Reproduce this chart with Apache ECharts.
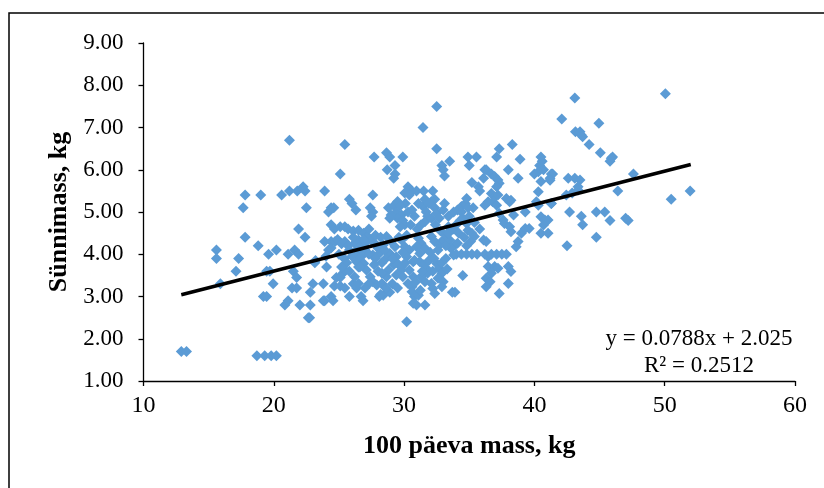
<!DOCTYPE html>
<html>
<head>
<meta charset="utf-8">
<script src="https://cdn.jsdelivr.net/npm/echarts@6/dist/echarts.min.js"></script>
<style>html,body{margin:0;padding:0;background:#fff}#c{width:824px;height:488px}</style>
</head>
<body>
<div id="c"></div>
<script>
// [100 päeva mass, Sünnimass]
var scatterData = [
[12.9,1.7],[13.3,1.7],[18.7,1.6],[19.3,1.6],[19.8,1.6],[20.2,1.6],
[15.6,4.1],[15.6,3.9],[15.9,3.3],[17.1,3.6],[17.3,3.9],[17.65,5.1],[17.8,5.4],[17.8,4.4],
[19.0,5.4],[18.8,4.2],[19.2,3.0],[19.45,3.0],[19.45,3.6],[19.7,3.6],[19.6,4.0],[19.95,3.3],[20.2,4.1],[20.6,5.4],
[21.2,6.7],[21.2,5.5],[21.1,4.0],[21.6,4.1],[21.9,4.0],[21.9,4.6],[21.8,5.5],[22.25,5.6],[22.4,5.5],[22.5,5.1],[22.4,4.4],
[20.85,2.8],[21.1,2.9],[21.5,3.6],[21.75,3.45],[21.4,3.2],[21.75,3.2],[22.0,2.8],[22.8,2.8],[22.65,2.5],[22.75,2.5],
[23.0,3.3],[22.8,3.1],[23.15,3.8],[23.9,5.5],[23.8,3.3],[23.8,2.9],[23.9,2.9],[24.05,3.7],[23.9,4.3],[24.4,4.3],
[24.2,4.1],[24.4,4.15],[24.0,3.95],[24.2,5.0],[24.4,5.1],[24.6,5.1],[24.4,4.7],[24.65,4.6],[25.1,4.65],[25.45,4.65],
[25.7,4.6],[26.1,4.55],[24.4,3.0],[24.55,2.9],[25.1,5.9],[25.45,6.6],[24.8,3.45],[25.1,3.45],[25.3,3.55],[25.45,3.63],
[24.65,3.25],[25.1,3.25],[25.45,3.2],[26.1,3.3],[26.35,3.2],[25.8,3.0],[26.0,5.2],[26.3,5.05],[25.8,5.3],
[24.7,4.3],[24.9,4.35],[25.2,4.25],[25.45,4.3],[26.2,4.26],[26.5,4.34],[26.35,4.1],[26.5,3.94],[26.35,3.82],[26.5,3.7],
[25.0,4.0],[25.4,3.9],[25.8,4.1],[25.6,3.8],[26.0,3.95],[25.2,3.7],[25.8,3.6],[26.1,4.4],[25.7,4.2],
[27.7,6.3],[28.65,6.4],[28.9,6.3],[29.9,6.3],[29.3,6.1],[28.7,6.0],[29.3,5.9],[29.2,5.8],
[32.9,6.1],[33.0,6.0],[33.1,5.85],[33.5,6.2],[34.9,6.3],[35.55,6.3],[35.0,6.1],[36.2,6.0],[36.1,5.8],[35.2,5.7],[35.7,5.6],[35.8,5.5],
[30.3,5.6],[30.6,5.5],[30.05,5.45],[30.4,5.4],[30.95,5.5],[31.5,5.5],[32.2,5.5],[32.35,5.3],[32.1,5.25],
[27.6,5.4],[27.4,5.1],[27.6,5.0],[27.5,4.9],[28.8,5.1],[29.2,5.15],[29.5,5.25],
[29.4,5.0],[29.8,4.93],[29.5,4.85],[29.9,4.8],[30.05,4.7],[29.7,4.65],[29.0,4.93],[28.9,4.85],
[31.45,5.13],[31.7,5.0],[31.8,4.9],[31.6,4.77],[32.1,4.85],[32.35,5.1],[32.5,4.97],[32.7,4.85],[33.0,5.05],[33.1,5.2],
[33.4,4.9],[33.8,5.0],[34.1,5.05],[34.4,5.13],[34.7,5.2],[34.8,5.32],[34.4,5.0],[34.5,4.85],[34.8,4.73],
[34.9,4.57],[35.2,4.5],[35.4,4.42],[35.8,4.6],[36.1,4.34],
[26.5,4.57],[26.9,4.5],[27.2,4.42],[27.5,4.34],[27.0,4.26],[26.6,4.18],
[27.75,4.26],[28.0,4.14],[27.6,3.98],[28.1,4.02],[28.4,4.22],
[28.65,4.42],[29.0,4.3],[29.3,4.18],[28.9,4.02],[29.4,3.94],
[29.8,4.34],[30.05,4.18],[30.4,4.1],[30.2,3.94],[30.7,3.82],
[31.1,4.38],[31.3,4.26],[31.6,4.14],[31.2,4.02],[30.95,4.18],
[32.1,4.42],[32.35,4.3],[32.7,4.22],[33.0,4.34],[32.6,4.1],
[33.5,4.34],[33.9,4.22],[33.6,4.14],[34.1,4.26],[33.8,3.98],
[34.0,4.0],[34.4,4.0],[34.8,4.0],[35.2,4.0],[35.6,4.0],
[34.5,3.5],[33.7,3.1],[33.9,3.1],
[26.5,4.02],[26.7,3.94],[26.9,3.78],[27.1,3.63],[27.4,3.47],[27.6,3.35],[27.9,3.27],[28.3,3.31],[28.5,3.23],
[26.6,3.7],[26.2,3.47],[26.5,3.31],[26.7,3.0],[26.85,2.9],[28.1,3.0],[28.4,3.03],
[28.8,3.63],[29.2,3.75],[28.65,3.47],[29.5,3.78],[29.8,3.63],[29.4,3.51],[29.9,3.47],
[30.4,3.63],[30.7,3.47],[30.3,3.31],[30.6,3.23],
[30.8,3.86],[31.2,3.82],[31.5,3.75],[31.7,3.67],[31.8,3.55],[31.3,3.47],[31.6,3.35],[32.1,3.31],[32.2,3.19],[32.35,3.07],
[32.5,3.78],[32.7,3.67],[32.9,3.55],[32.6,3.43],[33.0,3.35],[32.9,3.23],
[30.6,3.11],[30.8,3.0],[31.1,3.03],[30.7,2.84],[30.95,2.8],[31.6,2.8],
[30.2,2.4],[33.4,4.65],[33.6,4.57],[31.45,7.0],[32.5,7.5],[32.5,6.5],
[27.3,4.6],[27.8,4.45],[28.2,4.4],[28.5,4.1],[28.3,3.8],[28.0,3.6],[27.7,3.75],[28.6,3.9],[29.1,3.9],[29.6,4.4],
[29.9,4.05],[30.2,4.45],[30.5,4.7],[30.8,4.9],[31.0,4.6],[31.3,4.7],[30.3,5.0],[30.6,5.05],[31.1,5.2],[30.1,5.2],
[29.7,5.15],[31.6,5.3],[31.9,5.2],[32.4,4.7],[32.8,4.55],[33.2,4.45],[32.0,4.05],[31.9,3.85],[31.4,3.6],[30.9,3.35],
[31.25,3.15],[29.1,3.3],[29.5,3.2],[28.9,3.1],[29.8,3.7],[30.1,3.8],[27.0,4.1],[26.9,4.35],[27.3,4.0],[27.8,3.9],
[28.3,3.55],[27.3,3.3],[27.0,3.2],[28.2,3.05],[28.6,3.2],
[33.4,4.5],[33.8,4.6],[34.2,4.5],[34.6,4.4],[34.0,4.7],[34.3,4.8],[33.2,4.2],[34.8,4.2],[35.1,4.3],[35.4,4.75],
[35.0,4.9],[35.3,5.1],[34.9,5.1],[32.3,3.9],[32.9,3.8],[33.2,3.9],[33.3,3.65],[32.2,3.6],
[38.3,6.6],[37.3,6.5],[37.1,6.3],[38.9,6.25],[40.5,6.3],[40.4,6.1],[40.7,6.0],[40.3,5.95],[40.0,5.9],[41.4,5.9],
[41.2,5.8],[42.6,5.8],[43.1,5.8],[43.5,5.76],[43.35,5.6],[40.5,5.72],[40.3,5.48],[38.75,5.8],[38.0,6.0],
[36.3,6.0],[36.7,5.9],[36.95,5.84],[37.2,5.76],[37.3,5.68],[37.1,5.6],
[36.7,5.44],[36.95,5.36],[37.2,5.4],[36.8,5.24],[37.1,5.16],[36.45,5.24],[36.2,5.16],
[37.85,5.32],[38.1,5.24],[38.2,5.28],[37.3,4.97],[37.6,4.81],[37.7,4.73],[38.4,4.93],
[38.1,4.65],[38.2,4.53],[38.75,4.3],[38.6,4.18],[39.0,4.5],[39.3,4.61],[39.6,4.61],[39.3,5.0],[40.15,5.24],[40.3,5.16],
[40.5,4.89],[40.8,4.81],[41.05,4.81],[40.7,4.69],[40.5,4.5],[41.05,4.5],[41.3,5.2],[42.7,5.0],[42.5,4.2],[43.6,4.9],[43.7,4.7],
[36.3,4.3],[36.2,4.0],[36.45,3.94],[36.7,4.0],[37.1,4.0],[37.5,4.0],[37.85,4.0],
[36.45,3.71],[36.95,3.71],[37.2,3.67],[36.7,3.55],[36.3,3.43],[36.6,3.35],
[38.0,3.71],[38.2,3.59],[38.0,3.31],[37.3,3.07],[36.3,3.23],
[42.1,7.2],[42.45,5.4],[42.9,5.45],[43.1,7.7],[43.15,6.9],[43.5,6.9],[43.6,6.82],[43.7,6.78],[43.35,5.52],[44.2,6.6],
[44.75,4.4],[44.75,5.0],[45.4,5.0],[44.95,7.1],[45.06,6.4],[45.8,4.8],[45.8,6.2],[45.9,6.27],[46.0,6.3],[46.4,5.5],
[47.0,4.85],[47.2,4.8],[47.6,5.9],[50.05,7.8],[50.5,5.3],[51.95,5.5],[41.3,5.9],[41.2,5.75],[41.3,5.2],[40.6,6.2],[23.2,3.85]
];
var xTicks = [10, 20, 30, 40, 50, 60];
var yTicks = [1, 2, 3, 4, 5, 6, 7, 8, 9];
var trendSlope = 0.0788;
var trendIntercept = 2.025;
var trendRange = [12.9, 52.0];
var eqLines = ['y = 0.0788x + 2.025', 'R² = 0.2512'];

var trendData = trendRange.map(function (x) { return [x, trendSlope * x + trendIntercept]; });
var serif = 'Liberation Serif, Times New Roman, serif';

var chart = echarts.init(document.getElementById('c'), null, {renderer: 'canvas'});
chart.setOption({
  animation: false,
  backgroundColor: '#fff',
  grid: {left: 143.5, right: 29, top: 43, bottom: 107},
  xAxis: {
    type: 'value', min: xTicks[0], max: xTicks[xTicks.length - 1], interval: 10,
    axisLine: {lineStyle: {color: '#000', width: 1.3}},
    axisTick: {length: 5, lineStyle: {color: '#000', width: 1.3}},
    splitLine: {show: false},
    axisLabel: {color: '#000', fontFamily: serif, fontSize: 24, margin: 13},
    name: '100 päeva mass, kg', nameLocation: 'middle', nameGap: 52,
    nameTextStyle: {color: '#000', fontFamily: serif, fontSize: 26, fontWeight: 'bold'}
  },
  yAxis: {
    type: 'value', min: yTicks[0], max: yTicks[yTicks.length - 1], interval: 1,
    axisLine: {show: true, lineStyle: {color: '#000', width: 1.3}},
    axisTick: {show: true, length: 5, lineStyle: {color: '#000', width: 1.3}},
    splitLine: {show: false},
    axisLabel: {color: '#000', fontFamily: serif, fontSize: 23, margin: 20,
      formatter: function (v) { return v.toFixed(2); }},
    name: 'Sünnimass, kg', nameLocation: 'middle', nameGap: 71,
    nameTextStyle: {color: '#000', fontFamily: serif, fontSize: 26, fontWeight: 'bold'}
  },
  graphic: [
    {type: 'rect', shape: {x: 9, y: 13, width: 840, height: 500}, style: {fill: 'none', stroke: '#000', lineWidth: 1.5}, silent: true, z: -1},
    {type: 'text', x: 699, y: 339, style: {text: eqLines[0], fill: '#000', font: '23px ' + serif, textAlign: 'center', textVerticalAlign: 'middle'}},
    {type: 'text', x: 699, y: 366, style: {text: eqLines[1], fill: '#000', font: '23px ' + serif, textAlign: 'center', textVerticalAlign: 'middle'}}
  ],
  series: [
    {type: 'scatter', data: scatterData, symbol: 'diamond', symbolSize: 11,
     itemStyle: {color: '#5B9BD5', opacity: 1}, z: 2},
    {type: 'line', data: trendData, symbol: 'none', z: 3,
     lineStyle: {color: '#000', width: 3.5}}
  ]
});
</script>
</body>
</html>
